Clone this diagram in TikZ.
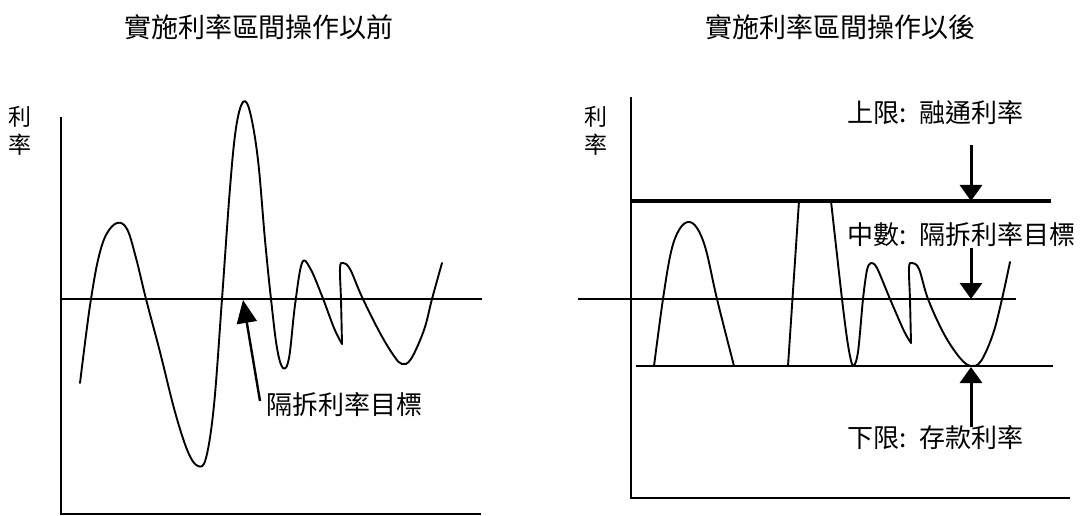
\documentclass[tikz,border=0pt]{standalone}
\usepackage{fontspec}
\setmainfont{Noto Sans CJK TC}
\usetikzlibrary{arrows.meta}
\begin{document}
\begin{tikzpicture}[x=1pt,y=-1pt,
  axisline/.style={line width=1.7pt},
  thinline/.style={line width=1.4pt},
  thickline/.style={line width=3.2pt},
  curve/.style={line width=1.9pt, line join=round, line cap=round},
  lbl/.style={font=\fontsize{26}{30}\selectfont, inner sep=0pt, anchor=west},
  ttl/.style={font=\fontsize{27}{30}\selectfont, inner sep=0pt},
  ylab/.style={font=\fontsize{23}{28}\selectfont, align=center, inner sep=0pt},
  arrL/.style={line width=2.4pt, -{Triangle[width=20pt,length=23pt]}},
  arrR/.style={line width=3pt, -{Triangle[width=22pt,length=16pt]}}]
\useasboundingbox (0,0) rectangle (1088,516);

% titles
\node[ttl] (titleL) at (259,27) {實施利率區間操作以前};
\node[ttl] (titleR) at (840,27) {實施利率區間操作以後};

% ---------- left panel ----------
\node[ylab] (ylabL) at (20,131) {利\\率};
\coordinate (oL) at (61,514);
\coordinate (yL) at (61,117);
\coordinate (xL) at (481,514);
\draw[axisline] (yL) -- (oL) -- (xL);
\coordinate (tLa) at (61,299);
\coordinate (tLb) at (482,299);
\draw[axisline] (tLa) -- (tLb);

\draw[curve] plot[smooth, tension=0.6] coordinates {
 (80,383) (86,335) (91,299) (98,260) (106,235) (117,223) (127,229) (136,258) (146,299)
 (160,352) (175,412) (188,452) (198,466) (206,458) (214,405) (222,299) (230,188)
 (236,128) (243,102) (250,112) (258,160) (265,240) (271,299) (277,348) (283,368)
 (289,358) (295,305) (302,263) (310,268) (322,296) (334,328) (342,344)};
\draw[curve] plot[smooth, tension=0.6] coordinates {
 (342,344) (341,300) (340,268) (343,263) (350,269) (362,297) (380,333) (394,356)
 (402,364) (411,359) (424,330) (432,299) (442,263)};

\node[lbl] (tgtL) at (266,405) {隔拆利率目標};
\coordinate (aL0) at (260,401);
\coordinate (aL1) at (243,300);
\draw[arrL] (aL0) -- (aL1);

% ---------- right panel ----------
\node[ylab] (ylabR) at (596,131) {利\\率};
\coordinate (oR) at (631,498);
\coordinate (yR) at (631,97);
\coordinate (xR) at (1070,498);
\draw[axisline] (yR) -- (oR) -- (xR);

\coordinate (upA) at (631,201);
\coordinate (upB) at (1051,201);
\draw[thickline] (upA) -- (upB);
\coordinate (mdA) at (578,299);
\coordinate (mdB) at (1016,299);
\draw[thinline] (mdA) -- (mdB);
\coordinate (loA) at (636,366);
\coordinate (loB) at (1053,366);
\draw[axisline] (loA) -- (loB);

\draw[curve] plot[smooth, tension=0.6] coordinates {
 (654,366) (663,299) (671,252) (679,230) (688,222) (697,228) (706,250) (717,299) (734,366)};
\draw[curve] (788,366) -- (799,201) -- (831,201);
\draw[curve] plot[smooth, tension=0.5] coordinates {
 (831,201) (842,299) (848,345) (853,366) (858,352) (863,299) (867,270) (871,263)
 (877,268) (890,299) (904,331) (911,343)};
\draw[curve] plot[smooth, tension=0.6] coordinates {
 (911,343) (910,300) (909,268) (912,263) (919,269) (928,299) (944,334) (960,358)
 (971,366) (981,361) (993,334) (1002,299) (1010,262)};

\node[lbl] (upLbl) at (847,113) {上限:\hspace{13pt}融通利率};
\node[lbl] (mdLbl) at (847,235) {中數:\hspace{13pt}隔拆利率目標};
\node[lbl] (loLbl) at (847,438) {下限:\hspace{13pt}存款利率};

\coordinate (aU0) at (971,145);
\coordinate (aU1) at (971,201);
\draw[arrR] (aU0) -- (aU1);
\coordinate (aM0) at (971,248);
\coordinate (aM1) at (971,299);
\draw[arrR] (aM0) -- (aM1);
\coordinate (aD0) at (971,427);
\coordinate (aD1) at (971,367);
\draw[arrR] (aD0) -- (aD1);
\end{tikzpicture}
\end{document}
